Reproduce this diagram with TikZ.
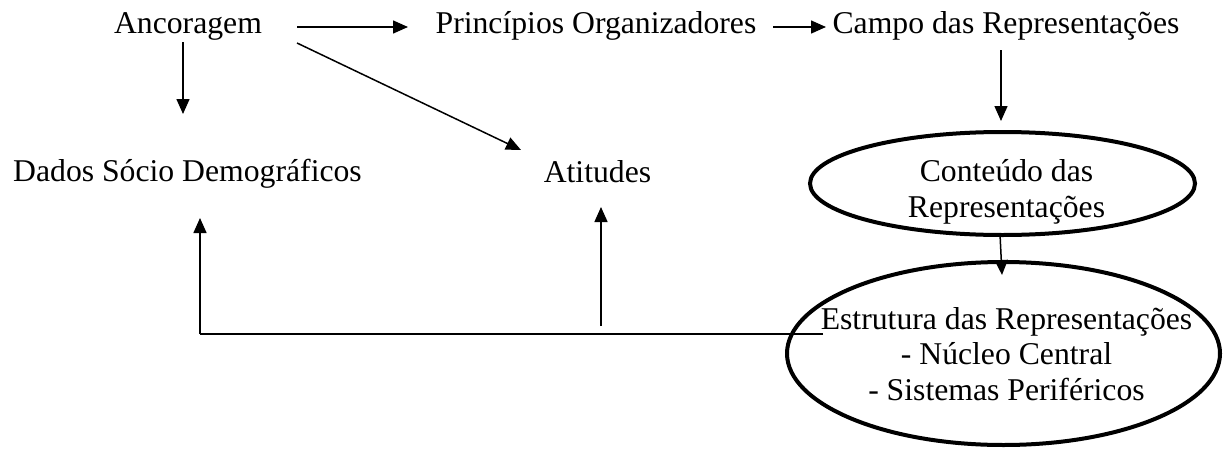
\documentclass[tikz,border=0pt]{standalone}
\usepackage{fontspec}
\setmainfont{Liberation Serif}
\usetikzlibrary{arrows.meta,shapes.geometric,calc}
\begin{document}
\begin{tikzpicture}[x=1pt,y=-1pt,
  lbl/.style={inner sep=0pt, font=\fontsize{31.7}{35.5}\selectfont, align=center},
  conn/.style={line width=1.5pt, -{Triangle[length=15pt,width=13pt]}},
  plain/.style={line width=1.6pt},
  oval/.style={draw, ellipse, line width=4pt, inner sep=0pt}]
\useasboundingbox (0,0) rectangle (1224,450);
% text nodes
\node[lbl, anchor=base] (anc) at (188,33) {Ancoragem};
\node[lbl, anchor=base] (pri) at (596,33) {Princípios Organizadores};
\node[lbl, anchor=base] (cam) at (1006,33) {Campo das Representações};
\node[lbl, anchor=base] (dad) at (187.5,181) {Dados Sócio Demográficos};
\node[lbl, anchor=base] (ati) at (597.5,182) {Atitudes};
% ellipses
\node[oval, minimum width=385pt, minimum height=103pt] (cont) at (1002.5,183.5) {};
\node[oval, minimum width=433pt, minimum height=183pt] (estr) at (1003.5,353.5) {};
% multi-line texts (base anchor = baseline of the last line)
\node[lbl, anchor=base] (contT) at (1006.5,217) {Conteúdo das\\Representações};
\node[lbl, anchor=base] (estrT) at (1006.5,400) {Estrutura das Representações\\- Núcleo Central\\- Sistemas Periféricos};
% connectors
\draw[conn] ($(anc.base)+(109,-6)$) -- ($(pri.base)+(-188,-6)$);
\draw[conn] ($(pri.base)+(177,-6)$) -- ($(cam.base)+(-180,-6)$);
\draw[conn] ($(anc.base)+(-5,9)$) -- ($(dad.base)+(-4.5,-67)$);
\draw[conn] ($(anc.base)+(109,10)$) -- ($(ati.base)+(-76.5,-32)$);
\draw[conn] ($(cam.base)+(-5,17)$) -- ($(cont.north)+(-1.5,-9)$);
\draw[conn] ($(cont.south)+(-2.5,-3)$) -- ($(estr.north)+(-1.5,15)$);
\coordinate (fbend) at ($(dad.base)+(12.5,153)$);
\draw[plain] ($(estr.west)+(38,-19.5)$) -- (fbend);
\draw[conn] (fbend) -- ($(dad.base)+(12.5,37)$);
\draw[conn] ($(ati.base)+(3.5,144)$) -- ($(ati.base)+(3.5,25)$);
\end{tikzpicture}
\end{document}
